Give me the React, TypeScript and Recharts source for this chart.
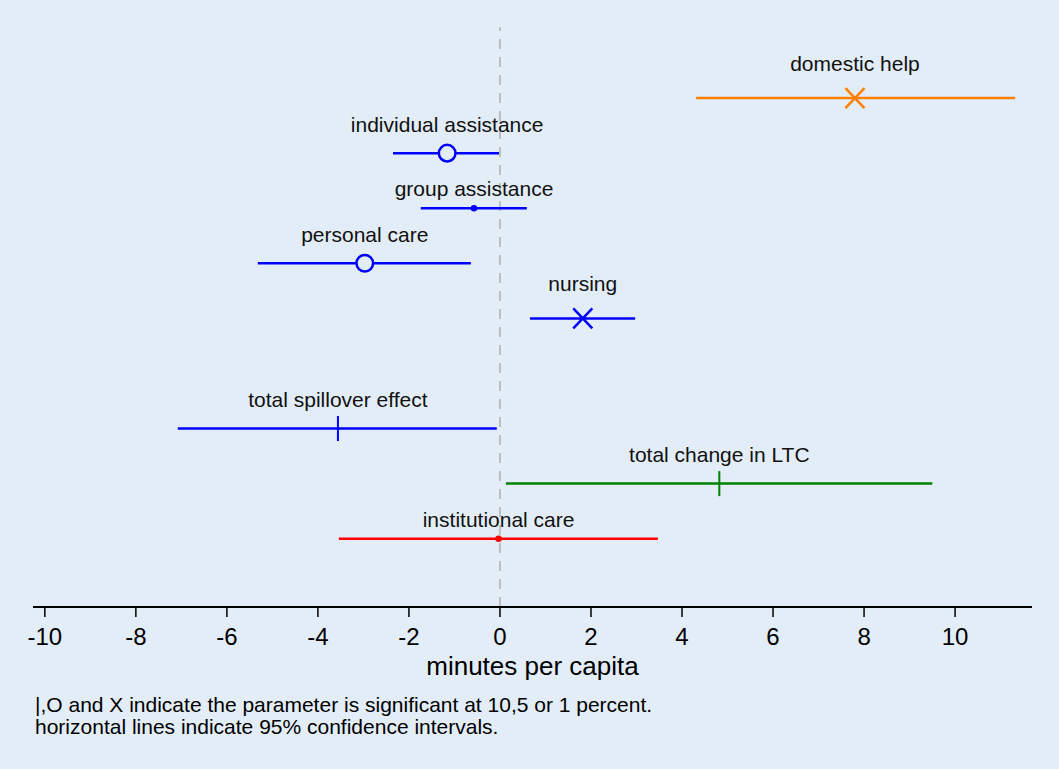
import { ErrorBar, ReferenceLine, Scatter, ScatterChart, XAxis, YAxis, Label } from "recharts"

const BG = "#E3EDF7"

// estimates (minutes per capita)
const labels = [
  "domestic help",
  "individual assistance",
  "group assistance",
  "personal care",
  "nursing",
  "total spillover effect",
  "total change in LTC",
  "institutional care",
]
const rowPos = [1, 2, 3, 4, 5, 7, 8, 9]
const estimates = [7.8, -1.16, -0.57, -2.97, 1.82, -3.56, 4.82, -0.03]
const lower = [4.31, -2.35, -1.74, -5.32, 0.66, -7.08, 0.13, -3.54]
const upper = [11.32, -0.02, 0.59, -0.64, 2.97, -0.07, 9.5, 3.47]
// significance marker: | = 10%, O = 5%, X = 1%, . = not significant
const marks = ["X", "O", ".", "O", "X", "|", "|", "."]
const groups = ["dom", "spill", "spill", "spill", "spill", "spill", "total", "inst"]
const xTicks = [-10, -8, -6, -4, -2, 0, 2, 4, 6, 8, 10]

const groupColors: Record<string, string> = {
  dom: "#FF7F00",
  spill: "#0000FF",
  total: "#008000",
  inst: "#FF0000",
}

// label baseline sits higher above bigger markers (stata-style gap)
const labelGap: Record<string, number> = { X: 27.5, O: 21, "|": 21.5, ".": 12 }

const rows = labels.map((name, i) => ({
  name,
  row: rowPos[i],
  est: estimates[i],
  err: [estimates[i] - lower[i], upper[i] - estimates[i]],
  mark: marks[i],
  group: groups[i],
}))

function Marker(props: any) {
  const { cx, cy, payload, color } = props
  let m = null
  if (payload.mark === "X") {
    m = (
      <g stroke={color} strokeWidth={2.5}>
        <line x1={cx - 9.5} y1={cy - 10} x2={cx + 9.5} y2={cy + 10} />
        <line x1={cx - 9.5} y1={cy + 10} x2={cx + 9.5} y2={cy - 10} />
      </g>
    )
  } else if (payload.mark === "O") {
    m = <circle cx={cx} cy={cy} r={8.3} fill={BG} stroke={color} strokeWidth={2.5} />
  } else if (payload.mark === "|") {
    m = <line x1={cx} y1={cy - 12.5} x2={cx} y2={cy + 12.5} stroke={color} strokeWidth={2} />
  } else {
    m = <circle cx={cx} cy={cy} r={3.3} fill={color} />
  }
  return (
    <g>
      {m}
      <text x={cx} y={cy - labelGap[payload.mark]} textAnchor="middle" fontSize={21} fill="#111">
        {payload.name}
      </text>
    </g>
  )
}

export default function App() {
  return (
    <div
      style={{
        position: "absolute",
        left: 0,
        top: 0,
        width: 1059,
        height: 769,
        background: BG,
        fontFamily: "'Liberation Sans', Arial, sans-serif",
      }}
    >
      <ScatterChart width={1059} height={769} margin={{ top: 27, right: 27, bottom: 0, left: 33 }}>
        <XAxis
          type="number"
          dataKey="est"
          domain={[-10.26, 11.69]}
          allowDataOverflow
          ticks={xTicks}
          interval={0}
          height={162}
          tickSize={10}
          tickMargin={11}
          tick={{ fontSize: 24, fill: "#000" }}
          tickLine={{ stroke: "#000", strokeWidth: 1.5 }}
          axisLine={{ stroke: "#000", strokeWidth: 2 }}
        >
          <Label value="minutes per capita" position="insideTop" offset={50} fontSize={26} fill="#000" />
        </XAxis>
        <YAxis type="number" dataKey="row" domain={[-0.29, 10.24]} reversed hide width={0} />
        <ReferenceLine x={0} stroke="#BEBEBE" strokeWidth={2} strokeDasharray="10 8" />
        {Object.keys(groupColors).map((g) => (
          <Scatter
            key={g}
            data={rows.filter((r) => r.group === g)}
            fill={groupColors[g]}
            isAnimationActive={false}
            shape={(p: any) => <Marker {...p} color={groupColors[g]} />}
          >
            <ErrorBar dataKey="err" direction="x" width={0} stroke={groupColors[g]} strokeWidth={2.5} />
          </Scatter>
        ))}
      </ScatterChart>
      <div
        style={{
          position: "absolute",
          left: 35,
          top: 693.5,
          fontSize: 21,
          lineHeight: "22px",
          color: "#000",
        }}
      >
        |,O and X indicate the parameter is significant at 10,5 or 1 percent.
        <br />
        horizontal lines indicate 95% confidence intervals.
      </div>
    </div>
  )
}
